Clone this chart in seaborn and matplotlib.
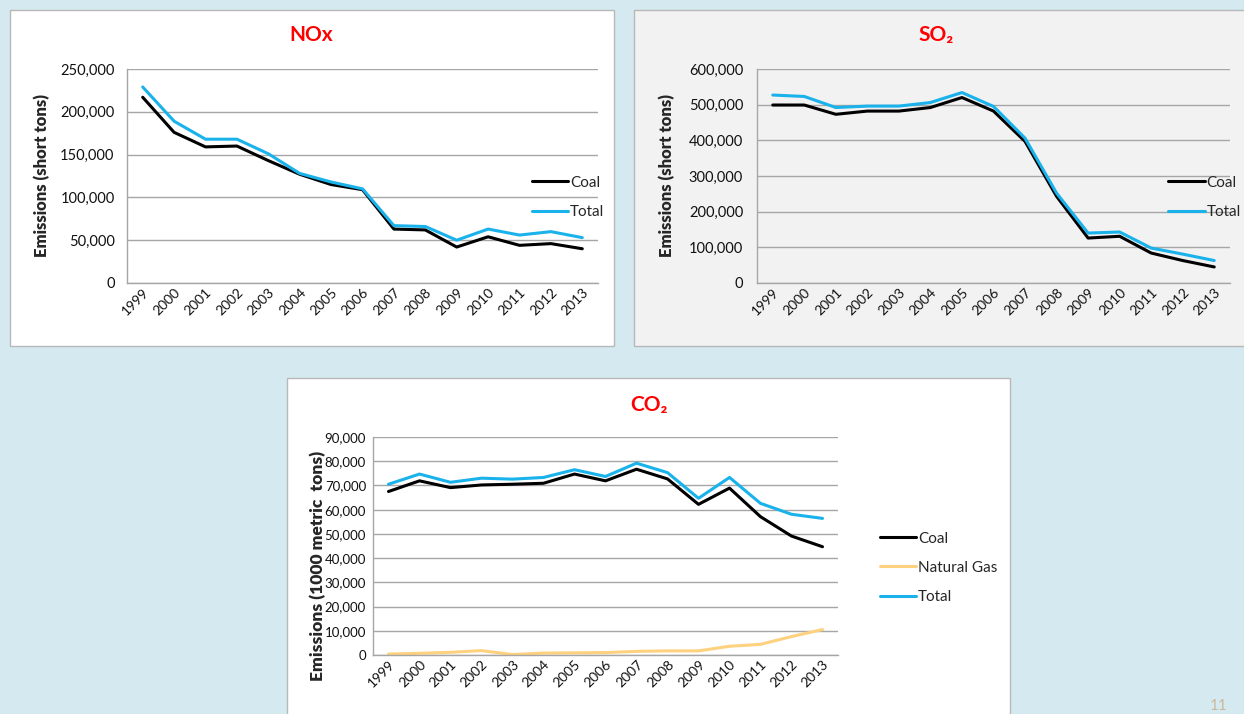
import pandas as pd
import seaborn as sns
import matplotlib.pyplot as plt
from matplotlib.patches import Rectangle
from matplotlib.ticker import FuncFormatter, MultipleLocator

# values
years = [str(y) for y in range(1999, 2014)]

nox_coal = [217000, 176000, 159000, 160000, 143000, 127000, 115000, 109000,
            63000, 62000, 42000, 54000, 44000, 46000, 40000]
nox_total = [229000, 189000, 168000, 168000, 151000, 128000, 118000, 110000,
             67000, 66000, 50000, 63000, 56000, 60000, 53000]

so2_coal = [499000, 499000, 473000, 482000, 482000, 492000, 520000, 482000,
            397000, 243000, 126000, 131000, 84000, 63000, 45000]
so2_total = [527000, 523000, 492000, 496000, 496000, 506000, 534000, 495000,
             406000, 252000, 140000, 143000, 98000, 81000, 63000]

co2_coal = [67500, 71900, 69100, 70200, 70500, 70900, 74700, 71900,
            76700, 72700, 62200, 68900, 57100, 49100, 44700]
co2_gas = [400, 700, 1100, 1800, 200, 800, 900, 1000,
           1500, 1700, 1700, 3600, 4400, 7600, 10500]
co2_total = [70500, 74700, 71300, 73000, 72600, 73300, 76500, 73700,
             79200, 75300, 64700, 73300, 62600, 58100, 56400]

colors = {"Coal": "black", "Natural Gas": "#fdd17e", "Total": "#1ab2ea"}

sns.set_theme(style="white")
plt.rcParams['font.family'] = ['Lato', 'DejaVu Sans']

W, H = 1244, 714
fig = plt.figure(figsize=(W / 100, H / 100), dpi=100)
fig.patch.set_facecolor("#d5eaf0")


def px_rect(x0, y0, x1, y1):
    # pixel box (top-left origin) -> figure fraction [l, b, w, h]
    return [x0 / W, 1 - y1 / H, (x1 - x0) / W, (y1 - y0) / H]


def panel(x0, y0, x1, y1, color):
    l, b, w, h = px_rect(x0, y0, x1, y1)
    fig.patches.append(Rectangle((l, b), w, h, transform=fig.transFigure,
                                 facecolor=color, edgecolor="#b8b8b8",
                                 linewidth=1, zorder=-5))


def make_frame(series):
    rows = []
    for name, vals in series.items():
        for yr, v in zip(years, vals):
            rows.append({"Year": yr, "Source": name, "Value": v})
    return pd.DataFrame(rows)


def draw(box, series, ymax, step, bg, ylabel, ylab_x, ylab_y, leg_anchor,
         pad, ysize=10.5, lsize=12):
    ax = fig.add_axes(px_rect(*box))
    ax.set_facecolor(bg)
    df = make_frame(series)
    sns.lineplot(data=df, x="Year", y="Value", hue="Source",
                 hue_order=list(series.keys()), palette=colors,
                 linewidth=2.2, ax=ax, sort=False)
    ax.set_xlim(-0.5, len(years) - 0.5)
    ax.set_ylim(0, ymax)
    ax.yaxis.set_major_locator(MultipleLocator(step))
    ax.yaxis.set_major_formatter(FuncFormatter(lambda v, p: f"{int(v):,}"))
    ax.grid(axis="y", color="#a6a6a6", linewidth=1)
    ax.set_axisbelow(True)
    for s in ["top", "right"]:
        ax.spines[s].set_visible(False)
    for s in ["left", "bottom"]:
        ax.spines[s].set_color("#a6a6a6")
        ax.spines[s].set_linewidth(1)
    ax.tick_params(axis="y", length=0, pad=pad, labelsize=ysize, labelcolor="#111111")
    ax.tick_params(axis="x", length=0, pad=2, labelsize=10, labelcolor="#111111")
    plt.setp(ax.get_xticklabels(), rotation=45, ha="right", rotation_mode="anchor")
    ax.set_xlabel("")
    ax.set_ylabel(ylabel, fontsize=lsize, fontweight="heavy")
    ax.yaxis.set_label_coords(ylab_x, ylab_y)
    sns.move_legend(ax, "center left", bbox_to_anchor=leg_anchor, frameon=False,
                    title=None, fontsize=11, handlelength=2.4,
                    handletextpad=0.1, labelspacing=1.0)
    return ax


# panel backgrounds
panel(10, 10, 614, 346, "white")
panel(634, 10, 1250, 346, "#f2f2f2")
panel(287, 378, 1010, 720, "white")

draw((127, 69, 598, 283), {"Coal": nox_coal, "Total": nox_total},
     250000, 50000, "white", "Emissions (short tons)", -0.163, 0.5,
     (0.83, 0.4), 9)
draw((757, 69, 1230, 283), {"Coal": so2_coal, "Total": so2_total},
     600000, 100000, "#f2f2f2", "Emissions (short tons)", -0.173, 0.5,
     (0.84, 0.4), 10)
draw((373, 437, 838, 655),
     {"Coal": co2_coal, "Natural Gas": co2_gas, "Total": co2_total},
     90000, 10000, "white", "Emissions (1000 metric  tons)", -0.101, 0.41,
     (1.06, 0.4), 5, ysize=9.5, lsize=12.5)

# titles
fig.text(311 / W, 1 - 35 / H, "NOx", color="red", fontsize=15,
         fontweight="bold", ha="center", va="center")
fig.text(936 / W, 1 - 35 / H, "SO₂", color="red", fontsize=15,
         fontweight="bold", ha="center", va="center")
fig.text(649 / W, 1 - 405 / H, "CO₂", color="red", fontsize=15,
         fontweight="bold", ha="center", va="center")

# page number in the corner
fig.text(1219 / W, 1 / H, "11", color="#c9b99b", fontsize=11,
         ha="center", va="bottom")

fig.savefig("out.png", dpi=100, facecolor=fig.get_facecolor())
